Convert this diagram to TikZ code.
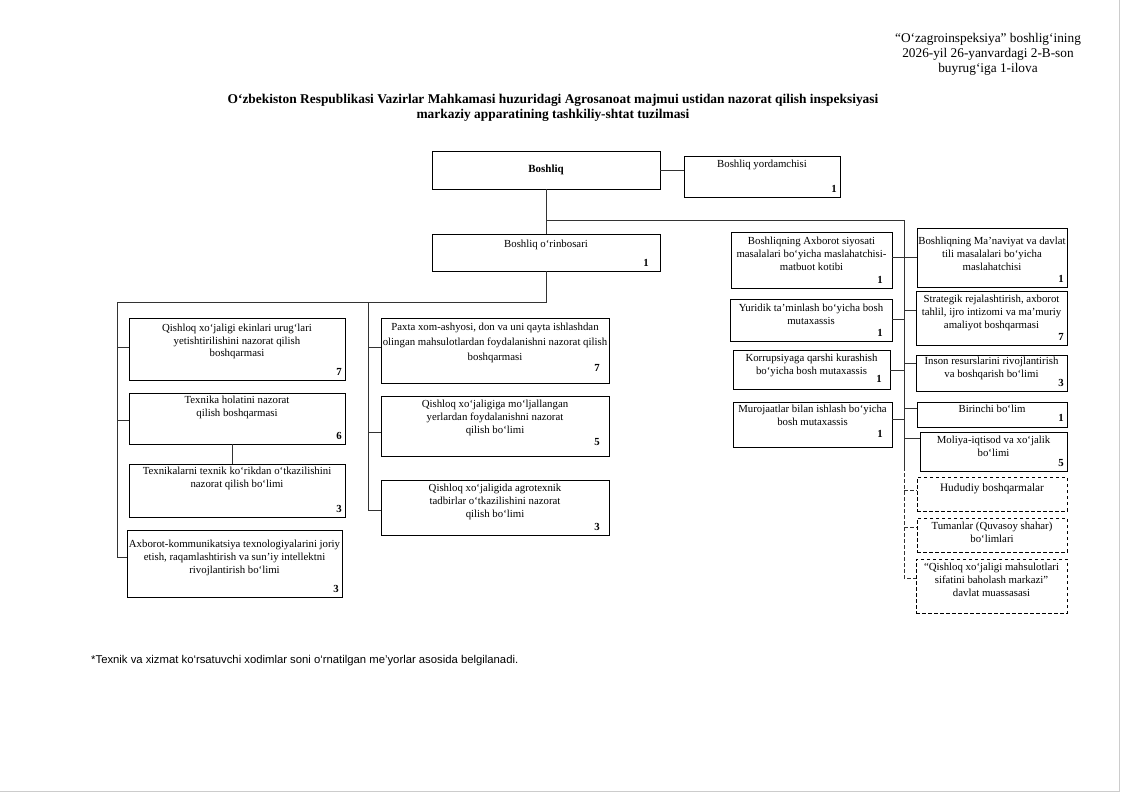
\documentclass[tikz,border=0pt]{standalone}
\usepackage{fontspec}
\setmainfont{Liberation Serif}
\newfontfamily\footfont{Liberation Sans}
\begin{document}
\begin{tikzpicture}[x=1pt,y=-1pt,
  box/.style={draw, line width=0.7pt, anchor=north west, inner sep=0pt, outer sep=0pt},
  dbox/.style={box, dash pattern=on 3.5pt off 2.5pt},
  txt/.style={anchor=north, align=center, inner sep=0pt, font=\fontsize{10.8}{13}\selectfont},
  num/.style={anchor=south east, inner sep=0pt, xshift=-3pt, yshift=4pt, font=\fontsize{10.8}{13}\selectfont\bfseries},
  conn/.style={draw=black!80, line width=0.7pt},
  dconn/.style={conn, dash pattern=on 3.5pt off 2.5pt}]
\useasboundingbox (0,0) rectangle (1124,796);
\fill[white] (0,0) rectangle (1124,796);
\draw[black!20, line width=0.8pt] (1119,0) -- (1119,791) -- (0,791);

% header and title
\node[align=center, inner sep=0pt, font=\fontsize{13.3}{15}\selectfont] (hdr) at (988,54)
  {“O‘zagroinspeksiya” boshlig‘ining\\2026-yil 26-yanvardagi 2-B-son\\buyrug‘iga 1-ilova};
\node[align=center, inner sep=0pt, font=\fontsize{13.4}{14.5}\selectfont\bfseries] (title) at (553,108)
  {O‘zbekiston Respublikasi Vazirlar Mahkamasi huzuridagi Agrosanoat majmui ustidan nazorat qilish inspeksiyasi\\markaziy apparatining tashkiliy-shtat tuzilmasi};

% top level
\node[box, minimum width=228pt, minimum height=38pt] (boss) at (432,151) {};
\node[inner sep=0pt, font=\fontsize{11}{13}\selectfont\bfseries] at (boss.center) {Boshliq};

\node[box, minimum width=156pt, minimum height=41pt] (yord) at (684,156) {};
\node[txt] at ([yshift=-4pt]yord.north) {Boshliq yordamchisi};
\node[num] at (yord.south east) {1};

\node[box, minimum width=228pt, minimum height=37pt] (dep) at (432,234) {};
\node[txt] at ([yshift=-6pt]dep.north) {Boshliq o‘rinbosari};
\node[num, xshift=-8pt] at (dep.south east) {1};

% left column
\node[box, minimum width=216pt, minimum height=62pt] (L1) at (129,318) {};
\node[txt, font=\fontsize{10.8}{12.5}\selectfont] at ([yshift=-6pt]L1.north) {Qishloq xo‘jaligi ekinlari urug‘lari\\yetishtirilishini nazorat qilish\\boshqarmasi};
\node[num] at (L1.south east) {7};

\node[box, minimum width=216pt, minimum height=51pt] (L2) at (129,393) {};
\node[txt] at ([yshift=-3pt]L2.north) {Texnika holatini nazorat\\qilish boshqarmasi};
\node[num] at (L2.south east) {6};

\node[box, minimum width=216pt, minimum height=53pt] (L3) at (129,464) {};
\node[txt] at ([yshift=-3pt]L3.north) {Texnikalarni texnik ko‘rikdan o‘tkazilishini\\nazorat qilish bo‘limi};
\node[num] at (L3.south east) {3};

\node[box, minimum width=215pt, minimum height=67pt] (L4) at (127,530) {};
\node[txt] at ([yshift=-10pt]L4.north) {Axborot-kommunikatsiya texnologiyalarini joriy\\etish, raqamlashtirish va sun’iy intellektni\\rivojlantirish bo‘limi};
\node[num] at (L4.south east) {3};

% middle column
\node[box, minimum width=228pt, minimum height=65pt] (M1) at (381,318) {};
\node[txt, font=\fontsize{10.8}{15}\selectfont] at ([yshift=-5pt]M1.north) {Paxta xom-ashyosi, don va uni qayta ishlashdan\\olingan mahsulotlardan foydalanishni nazorat qilish\\boshqarmasi};
\node[num, xshift=-6pt, yshift=7pt] at (M1.south east) {7};

\node[box, minimum width=228pt, minimum height=60pt] (M2) at (381,396) {};
\node[txt] at ([yshift=-4pt]M2.north) {Qishloq xo‘jaligiga mo‘ljallangan\\yerlardan foydalanishni nazorat\\qilish bo‘limi};
\node[num, xshift=-6pt, yshift=6pt] at (M2.south east) {5};

\node[box, minimum width=228pt, minimum height=55pt] (M3) at (381,480) {};
\node[txt] at ([yshift=-4pt]M3.north) {Qishloq xo‘jaligida agrotexnik\\tadbirlar o‘tkazilishini nazorat\\qilish bo‘limi};
\node[num, xshift=-6pt] at (M3.south east) {3};

% right inner column
\node[box, minimum width=161pt, minimum height=56pt] (R1a) at (731,232) {};
\node[txt] at ([yshift=-5pt]R1a.north) {Boshliqning Axborot siyosati\\masalalari bo‘yicha maslahatchisi-\\matbuot kotibi};
\node[num, xshift=-6pt] at (R1a.south east) {1};

\node[box, minimum width=162pt, minimum height=42pt] (R1b) at (730,299) {};
\node[txt] at ([yshift=-5pt]R1b.north) {Yuridik ta’minlash bo‘yicha bosh\\mutaxassis};
\node[num, xshift=-6pt] at (R1b.south east) {1};

\node[box, minimum width=157pt, minimum height=39pt] (R1c) at (733,350) {};
\node[txt] at ([yshift=-4pt]R1c.north) {Korrupsiyaga qarshi kurashish\\bo‘yicha bosh mutaxassis};
\node[num, xshift=-5pt, yshift=2pt] at (R1c.south east) {1};

\node[box, minimum width=159pt, minimum height=45pt] (R1d) at (733,402) {};
\node[txt] at ([yshift=-3pt]R1d.north) {Murojaatlar bilan ishlash bo‘yicha\\bosh mutaxassis};
\node[num, xshift=-6pt, yshift=5pt] at (R1d.south east) {1};

% right outer column
\node[box, minimum width=150pt, minimum height=59pt] (R2a) at (917,228) {};
\node[txt] at ([yshift=-9pt]R2a.north) {Boshliqning Ma’naviyat va davlat\\tili masalalari bo‘yicha\\maslahatchisi};
\node[num] at (R2a.south east) {1};

\node[box, minimum width=151pt, minimum height=54pt] (R2b) at (916,291) {};
\node[txt] at ([yshift=-4pt]R2b.north) {Strategik rejalashtirish, axborot\\tahlil, ijro intizomi va ma’muriy\\amaliyot boshqarmasi};
\node[num] at (R2b.south east) {7};

\node[box, minimum width=151pt, minimum height=36pt] (R2c) at (916,355) {};
\node[txt] at ([yshift=-2pt]R2c.north) {Inson resurslarini rivojlantirish\\va boshqarish bo‘limi};
\node[num] at (R2c.south east) {3};

\node[box, minimum width=150pt, minimum height=25pt] (R2d) at (917,402) {};
\node[txt] at ([yshift=-3pt]R2d.north) {Birinchi bo‘lim};
\node[num, yshift=1pt] at (R2d.south east) {1};

\node[box, minimum width=147pt, minimum height=39pt] (R2e) at (920,432) {};
\node[txt] at ([yshift=-4pt]R2e.north) {Moliya-iqtisod va xo‘jalik\\bo‘limi};
\node[num] at (R2e.south east) {5};

\node[dbox, minimum width=150pt, minimum height=34pt] (R2f) at (917,477) {};
\node[txt, font=\fontsize{11.3}{13}\selectfont] at ([yshift=-6pt]R2f.north) {Hududiy boshqarmalar};

\node[dbox, minimum width=150pt, minimum height=34pt] (R2g) at (917,518) {};
\node[txt] at ([yshift=-4pt]R2g.north) {Tumanlar (Quvasoy shahar)\\bo‘limlari};

\node[dbox, minimum width=151pt, minimum height=54pt] (R2h) at (916,559) {};
\node[txt] at ([yshift=-4pt]R2h.north) {“Qishloq xo‘jaligi mahsulotlari\\sifatini baholash markazi”\\davlat muassasasi};

% footnote
\node[anchor=west, inner sep=0pt, font=\footfont\fontsize{11.3}{13}\selectfont] (fn) at (91,661)
  {*Texnik va xizmat ko‘rsatuvchi xodimlar soni o‘rnatilgan me’yorlar asosida belgilanadi.};

% trunk coordinates
\coordinate (jR) at (546,220);
\coordinate (tr) at (904,220);
\coordinate (trS) at (904,467);
\coordinate (trD) at (904,578);
\coordinate (jL) at (546,302);
\coordinate (lt) at (117,302);
\coordinate (lb) at (117,557);
\coordinate (mt) at (368,302);
\coordinate (mb) at (368,510);

% connectors
\draw[conn] (boss.east) -- (boss.east -| yord.west);
\draw[conn] (boss.south) -- (dep.north);
\draw[conn] (jR) -- (tr) -- (trS);
\draw[dconn] (trS) -- (trD) -- (trD -| R2h.west);
\draw[conn] (dep.south) -- (jL) -- (lt) -- (lb) -- (lb -| L4.west);
\draw[conn] (mt) -- (mb) -- (mb -| M3.west);

\coordinate (cL1) at (117,347); \draw[conn] (cL1) -- (cL1 -| L1.west);
\coordinate (cL2) at (117,420); \draw[conn] (cL2) -- (cL2 -| L2.west);
\coordinate (cL23) at ([xshift=-5pt]L2.south); \draw[conn] (cL23) -- (cL23 |- L3.north);
\coordinate (cM1) at (368,347); \draw[conn] (cM1) -- (cM1 -| M1.west);
\coordinate (cM2) at (368,432); \draw[conn] (cM2) -- (cM2 -| M2.west);

\coordinate (cR1a) at (904,257); \draw[conn] (cR1a) -- (cR1a -| R1a.east);
\coordinate (cR1b) at (904,319); \draw[conn] (cR1b) -- (cR1b -| R1b.east);
\coordinate (cR1c) at (904,370); \draw[conn] (cR1c) -- (cR1c -| R1c.east);
\coordinate (cR1d) at (904,419); \draw[conn] (cR1d) -- (cR1d -| R1d.east);

\coordinate (cR2a) at (904,257); \draw[conn] (cR2a) -- (cR2a -| R2a.west);
\coordinate (cR2b) at (904,310); \draw[conn] (cR2b) -- (cR2b -| R2b.west);
\coordinate (cR2c) at (904,363); \draw[conn] (cR2c) -- (cR2c -| R2c.west);
\coordinate (cR2d) at (904,408); \draw[conn] (cR2d) -- (cR2d -| R2d.west);
\coordinate (cR2e) at (904,438); \draw[conn] (cR2e) -- (cR2e -| R2e.west);
\coordinate (cR2f) at (904,490); \draw[dconn] (cR2f) -- (cR2f -| R2f.west);
\coordinate (cR2g) at (904,527); \draw[dconn] (cR2g) -- (cR2g -| R2g.west);
\end{tikzpicture}
\end{document}
